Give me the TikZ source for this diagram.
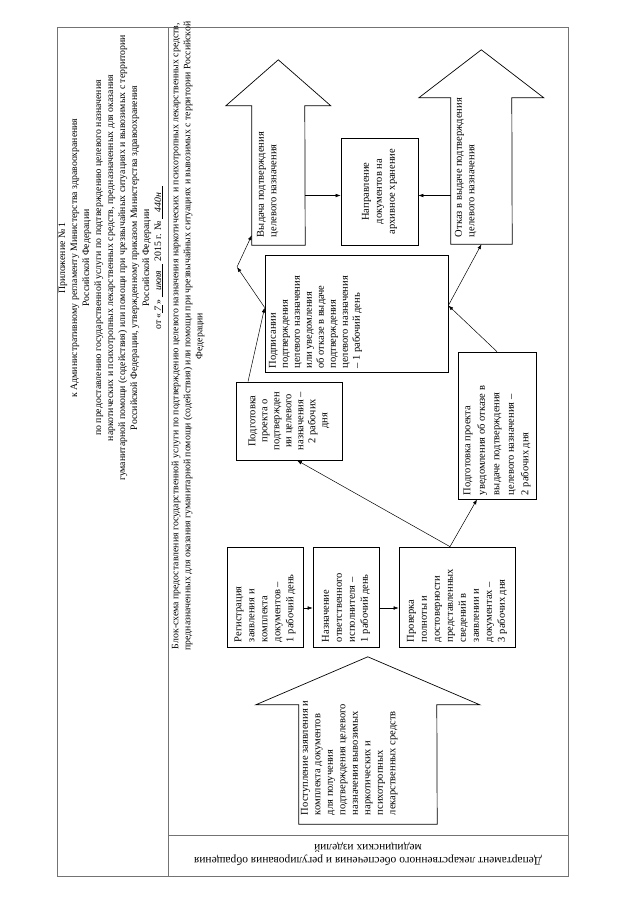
\documentclass[tikz,border=0pt]{standalone}
\usepackage{fontspec}
\setmainfont{Liberation Serif}
\usetikzlibrary{arrows.meta,calc}

% upright text set bottom-to-top: #1 inner pos, #2 length (page y), #3 depth (page x)
\newcommand{\uptext}[4]{\rotatebox{90}{\parbox[c][#3][#1]{#2}{#4}}}
\newcommand{\boxfont}{\fontsize{10.5}{13}\selectfont}
\newcommand{\hand}[1]{\underline{\,\textit{#1}\,}}

\tikzset{
    frame/.style={draw=black!55, line width=.7pt},
    box/.style={draw, line width=.7pt, inner sep=0pt, font=\boxfont},
    shaft/.style={inner sep=0pt},
    arrowtext/.style={rotate=90, anchor=north west, align=left, inner sep=0pt,
        font=\fontsize{10.5}{12.5}\selectfont},
    bigarrow/.style={draw, line width=.7pt, line join=miter},
    link/.style={-{Latex[length=5pt,width=3.6pt]}, line width=.5pt},
    headtext/.style={rotate=90, align=center, inner sep=0pt,
        font=\fontsize{9.8}{12}\selectfont},
}

\begin{document}
\begin{tikzpicture}[x=1pt, y=-1pt]
\useasboundingbox (0,0) rectangle (640,905);

% page frame
\draw[frame] (57,27) rectangle (568,876);
\draw[frame] (168,27) -- (168,876);
\draw[frame] (168,835) -- (568,835);

% approval stamp
\node[headtext] (appendix) at (111,258) {%
    Приложение № 1\\
    к Административному регламенту Министерства здравоохранения\\
    Российской Федерации\\
    по предоставлению государственной услуги по подтверждению целевого назначения\\
    наркотических и психотропных лекарственных средств, предназначенных для оказания\\
    гуманитарной помощи (содействия) или помощи при чрезвычайных ситуациях и вывозимых с территории\\
    Российской Федерации, утвержденному приказом Министерства здравоохранения\\
    Российской Федерации\\
    от «\hand{7}» \hand{\ \ июля\ \ } 2015 г. № \hand{\ \ 440н\ \ }};

\node[headtext, font=\fontsize{9.8}{12}\selectfont] (title) at (188,336) {%
    Блок-схема предоставления государственной услуги по подтверждению целевого назначения наркотических и психотропных лекарственных средств,\\
    предназначенных для оказания гуманитарной помощи (содействия) или помощи при чрезвычайных ситуациях и вывозимых с территории Российской\\
    Федерации};

\node[rotate=180, align=center, inner sep=0pt, font=\fontsize{11.5}{13}\selectfont] (dept) at (368,854) {%
    Департамент лекарственного обеспечения и регулирования обращения\\
    медицинских изделий};

% block arrows
\node[shaft, minimum width=138pt, minimum height=119pt] (post) at (368,764.5) {};
\draw[bigarrow] (post.south west) -- (post.north west) -- ++(-43,0) -- ++(112,-48)
    -- ++(112,48) -- ++(-43,0) -- (post.south east) -- cycle;
\node[arrowtext] (post-t) at ([xshift=2pt,yshift=9pt]post.south west)
    {Поступление заявления и\\комплекта документов\\для получения\\подтверждения целевого\\назначения вывозимых\\наркотических и\\психотропных\\лекарственных средств};

\node[shaft, minimum width=53pt, minimum height=139pt] (vyd) at (278.5,175.5) {};
\draw[bigarrow] (vyd.south west) -- (vyd.north west) -- ++(-26,0) -- ++(52.5,-46)
    -- ++(52.5,46) -- ++(-26,0) -- (vyd.south east) -- cycle;
\node[arrowtext] (vyd-t) at ([xshift=5pt,yshift=8pt]vyd.south west)
    {Выдача подтверждения\\целевого назначения};

\node[shaft, minimum width=61pt, minimum height=146pt] (otk) at (481.5,171) {};
\draw[bigarrow] (otk.south west) -- (otk.north west) -- ++(-32,0) -- ++(62.5,-48)
    -- ++(62.5,48) -- ++(-32,0) -- (otk.south east) -- cycle;
\node[arrowtext] (otk-t) at ([xshift=4pt,yshift=7pt]otk.south west)
    {Отказ в выдаче подтверждения\\целевого назначения};

% process boxes
\node[box, minimum width=76pt, minimum height=100pt] (reg) at (265,597) {%
    \uptext{c}{90pt}{70pt}{\raggedright Регистрация\\заявления и\\комплекта\\документов –\\1 рабочий день}};
\node[box, minimum width=66pt, minimum height=100pt] (nazn) at (346,597) {%
    \uptext{c}{90pt}{60pt}{\raggedright Назначение\\ответственного\\исполнителя –\\1 рабочий день}};
\node[box, minimum width=116pt, minimum height=100pt] (prov) at (457,597) {%
    \uptext{c}{90pt}{110pt}{\raggedright Проверка\\полноты и\\достоверности\\представленных\\сведений в\\заявлении и\\документах –\\3 рабочих дня}};
\node[box, minimum width=106pt, minimum height=78pt,
      font=\fontsize{10.5}{12}\selectfont] (podg) at (289,421) {%
    \uptext{c}{74pt}{100pt}{\centering Подготовка\\проекта о\\подтвержден\\ии целевого\\назначения –\\2 рабочих\\дня}};
\node[box, minimum width=78pt, minimum height=147pt,
      font=\fontsize{10.5}{14.5}\selectfont] (otkpodg) at (497,425.5) {%
    \uptext{c}{139pt}{72pt}{\raggedright Подготовка проекта\\уведомления об отказе в\\выдаче подтверждения\\целевого назначения –\\2 рабочих дня}};
\node[box, minimum width=183pt, minimum height=117pt,
      font=\fontsize{10.5}{12}\selectfont] (sign) at (356.5,313.5) {%
    \uptext{t}{110pt}{175pt}{\raggedright Подписании\\подтверждения\\целевого назначения\\или уведомления\\об отказе в выдаче\\подтверждения\\целевого назначения\\– 1 рабочий день}};
\node[box, minimum width=77pt, minimum height=107pt] (arch) at (379.5,191.5) {%
    \uptext{c}{99pt}{70pt}{\centering Направление\\документов на\\архивное хранение}};

\coordinate (bend) at (237,267);

% connectors
\draw[link] ([yshift=-11pt]reg.east) -- ([yshift=-11pt]nazn.west);
\draw[link] ([yshift=-11pt]nazn.east) -- ([yshift=-11pt]prov.west);
\draw[link] ([xshift=-7pt]prov.north) -- ([xshift=8pt]podg.south);
\draw[link] ([xshift=-7pt]prov.north) -- ([xshift=-20pt]otkpodg.south);
\draw[link] ([xshift=-41pt]podg.north) -- ([yshift=6pt]sign.west);
\draw[link] (otkpodg.north) -- ([yshift=8pt]sign.east);
\draw[link] ([yshift=8pt]sign.east) -- (otk.south);
\draw[link] ([yshift=6pt]sign.west) -- (bend);
\draw[link] (bend) -- ([yshift=10pt]vyd.south west);
\draw[link] ($(vyd.east |- arch.west)+(0,4)$) -- ($(arch.west)+(0,4)$);
\draw[link] ($(otk.west |- arch.east)+(0,4)$) -- ($(arch.east)+(0,4)$);
\end{tikzpicture}
\end{document}
